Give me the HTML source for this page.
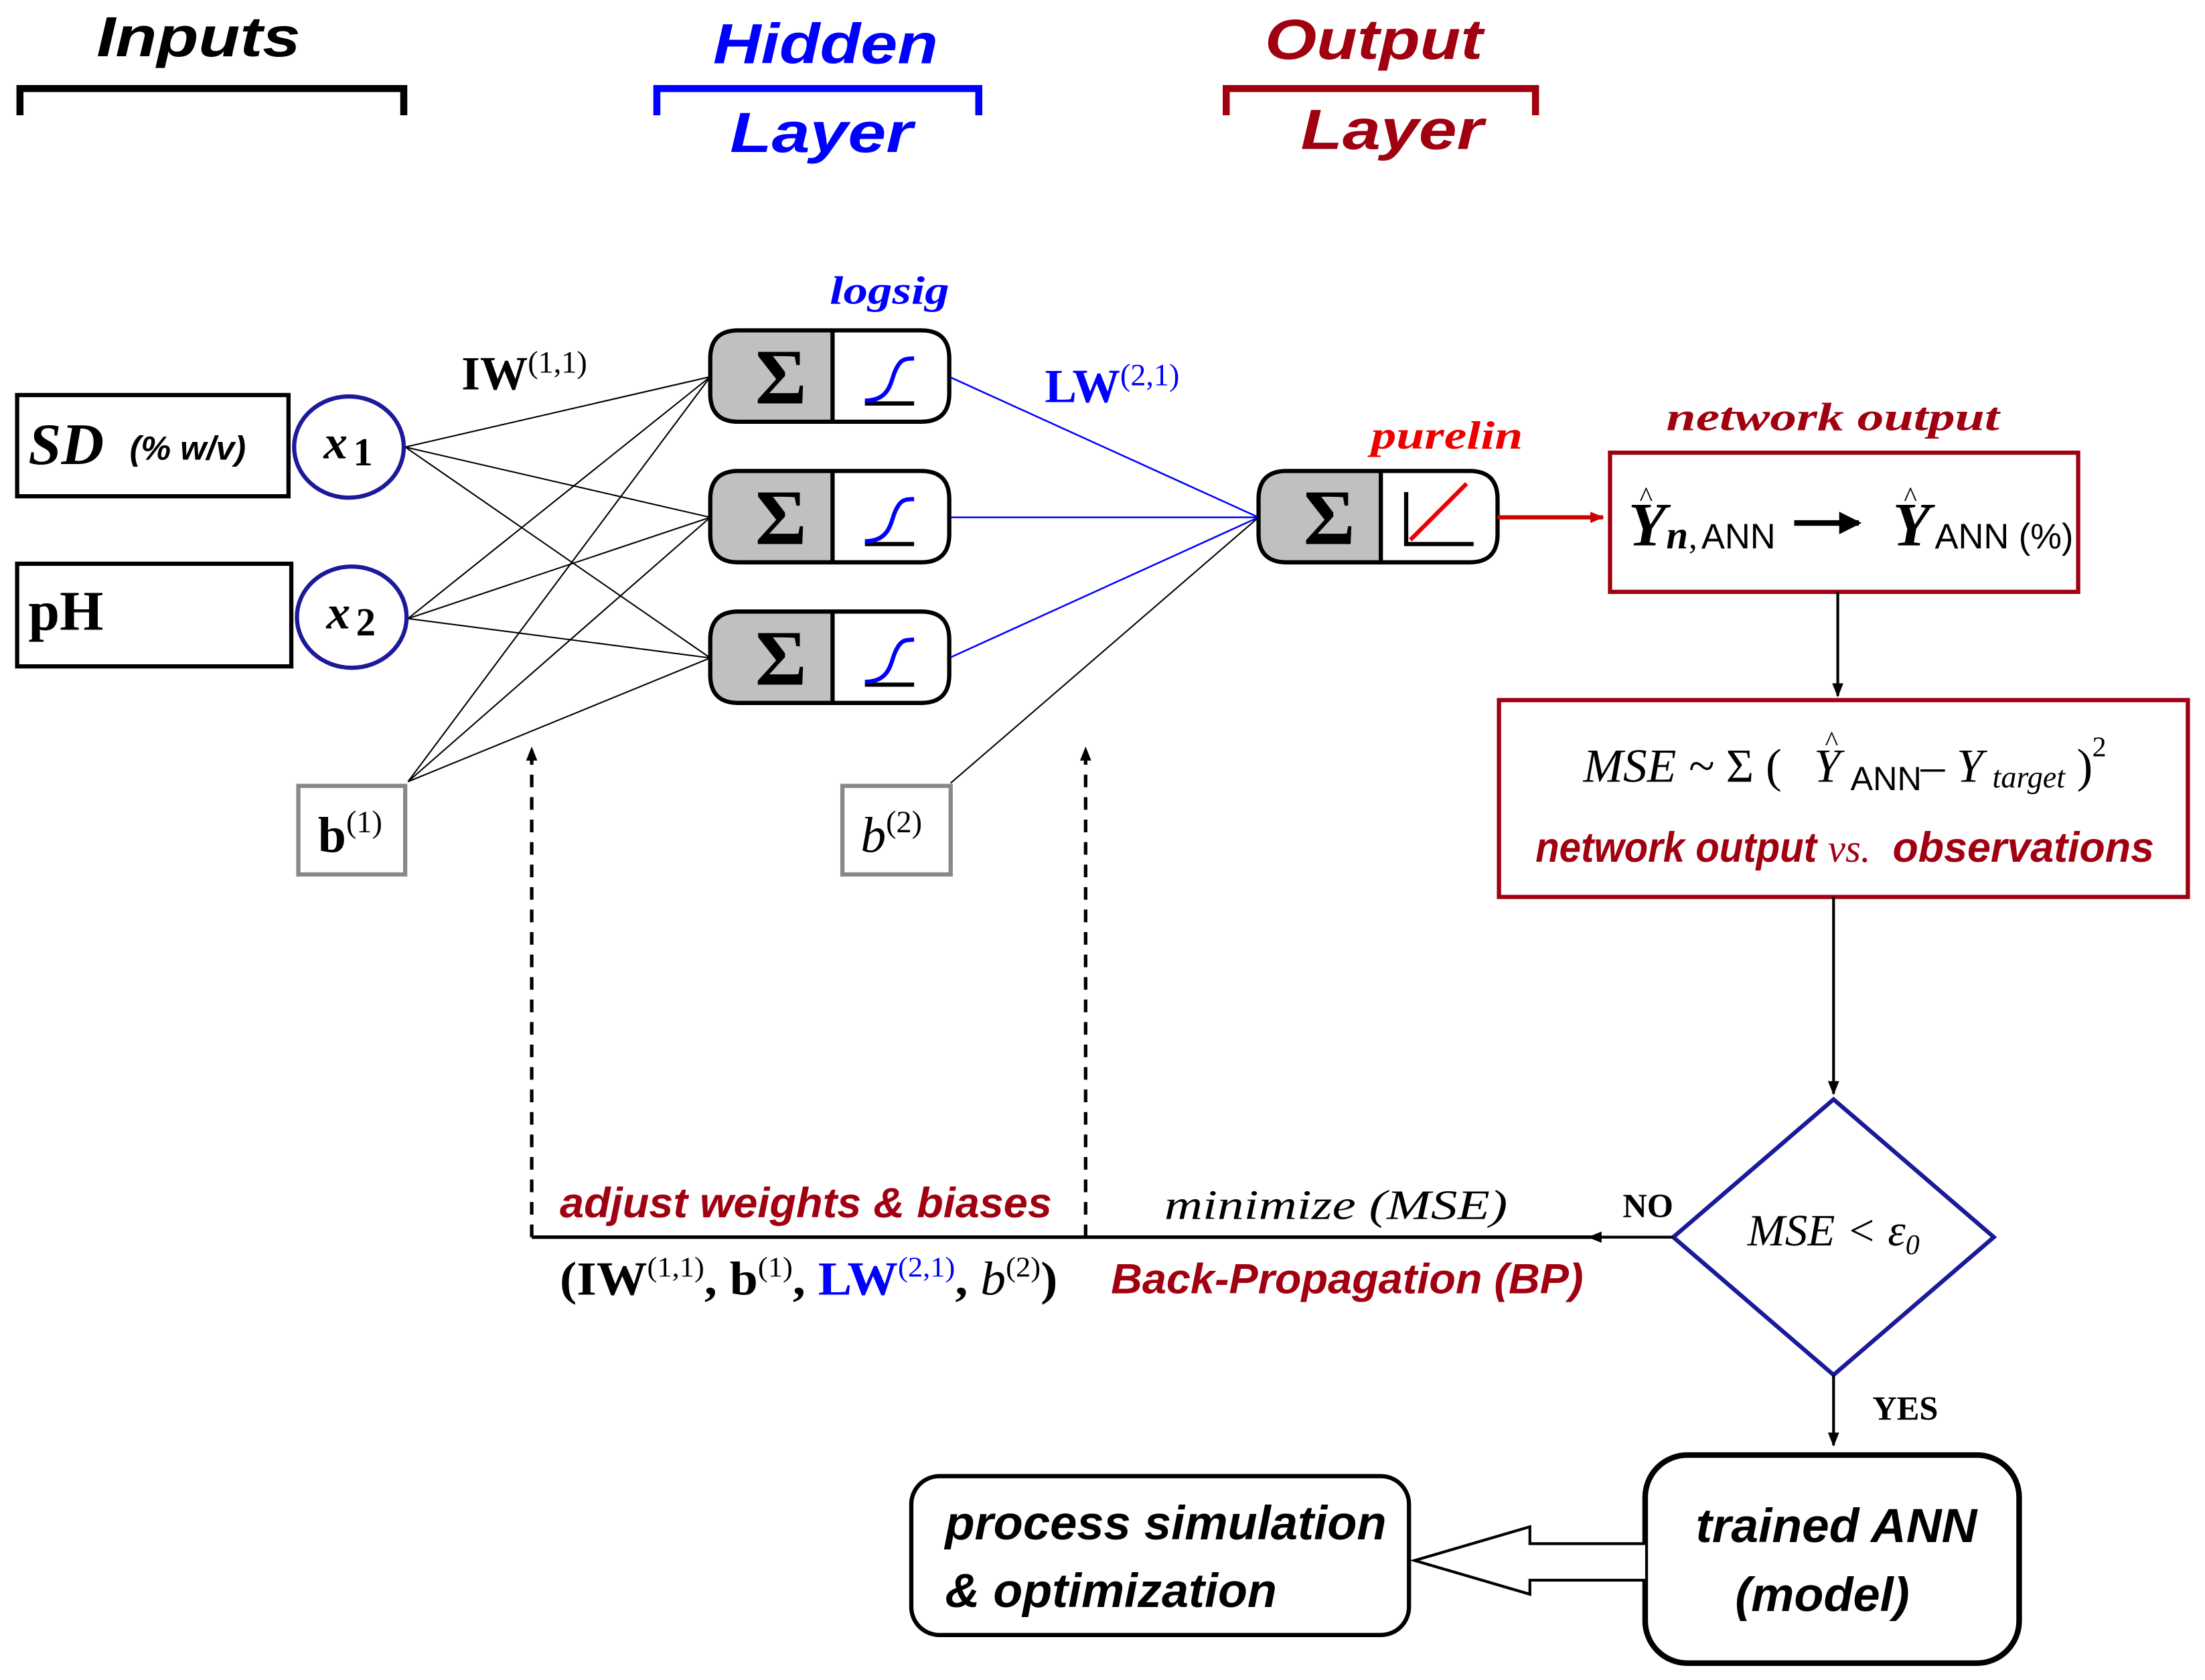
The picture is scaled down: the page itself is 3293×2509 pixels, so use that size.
<!DOCTYPE html>
<html><head><meta charset="utf-8"><style>
html,body{margin:0;padding:0;background:#fff}
svg{display:block}
.h{font-family:"Liberation Sans",sans-serif;font-weight:bold;font-style:italic}
.s{font-family:"Liberation Serif",serif}
</style></head><body>
<svg width="3293" height="2509" viewBox="0 0 1568 1195" xmlns="http://www.w3.org/2000/svg">
<defs>
<marker id="ab" markerWidth="10" markerHeight="8" refX="9" refY="4" orient="auto" markerUnits="userSpaceOnUse"><path d="M0,0 L10,4 L0,8 Z" fill="#000"/></marker>
<marker id="ar" markerWidth="10" markerHeight="8" refX="9" refY="4" orient="auto" markerUnits="userSpaceOnUse"><path d="M0,0 L10,4 L0,8 Z" fill="#c00"/></marker>
<g id="neu">
<path d="M20,0 H150 Q170,0 170,20 V45 Q170,65 150,65 H20 Q0,65 0,45 V20 Q0,0 20,0 Z" fill="#fff"/>
<path d="M20,0 H87 V65 H20 Q0,65 0,45 V20 Q0,0 20,0 Z" fill="#c0c0c0"/>
<path d="M20,0 H150 Q170,0 170,20 V45 Q170,65 150,65 H20 Q0,65 0,45 V20 Q0,0 20,0 Z" fill="none" stroke="#000" stroke-width="3"/>
<line x1="87" y1="0" x2="87" y2="65" stroke="#000" stroke-width="3"/>
<text x="32" y="52" class="s" font-size="56" font-weight="bold">Σ</text>
</g>
<g id="sig">
<line x1="110" y1="52" x2="145" y2="52" stroke="#000" stroke-width="3"/>
<path d="M110,50 C130,50 128,33 133,26 C136,20 140,20 145,20" fill="none" stroke="#00f" stroke-width="3"/>
</g>
</defs>

<!-- headers -->
<text x="141" y="40" text-anchor="middle" class="h" font-size="40" textLength="145" lengthAdjust="spacingAndGlyphs">Inputs</text>
<path d="M14,82 V63 H287 V82" fill="none" stroke="#000" stroke-width="5"/>
<text x="587" y="45" text-anchor="middle" class="h" font-size="40" fill="#00f" textLength="160" lengthAdjust="spacingAndGlyphs">Hidden</text>
<path d="M467,82 V63 H696 V82" fill="none" stroke="#00f" stroke-width="5"/>
<text x="584" y="108" text-anchor="middle" class="h" font-size="40" fill="#00f" textLength="130" lengthAdjust="spacingAndGlyphs">Layer</text>
<text x="977" y="42" text-anchor="middle" class="h" font-size="40" fill="#a00010" textLength="155" lengthAdjust="spacingAndGlyphs">Output</text>
<path d="M872,82 V63 H1092 V82" fill="none" stroke="#a00010" stroke-width="5"/>
<text x="990" y="106" text-anchor="middle" class="h" font-size="40" fill="#a00010" textLength="130" lengthAdjust="spacingAndGlyphs">Layer</text>

<!-- connections -->
<g stroke="#000" stroke-width="1">
<line x1="288" y1="318" x2="505" y2="268"/><line x1="288" y1="318" x2="505" y2="368"/><line x1="288" y1="318" x2="505" y2="468"/>
<line x1="290" y1="440" x2="505" y2="268"/><line x1="290" y1="440" x2="505" y2="368"/><line x1="290" y1="440" x2="505" y2="468"/>
<line x1="290" y1="556" x2="505" y2="268"/><line x1="290" y1="556" x2="505" y2="368"/><line x1="290" y1="556" x2="505" y2="468"/>
<line x1="676" y1="557" x2="895" y2="368"/>
</g>
<g stroke="#00f" stroke-width="1.2">
<line x1="675" y1="268" x2="895" y2="368"/><line x1="675" y1="368" x2="895" y2="368"/><line x1="675" y1="468" x2="895" y2="368"/>
</g>

<!-- inputs -->
<rect x="12" y="281" width="193" height="72" fill="#fff" stroke="#000" stroke-width="3"/>
<text x="20" y="330" class="s" font-size="42" font-style="italic" font-weight="bold">SD</text>
<text x="92" y="327" class="h" font-size="24" font-style="normal">(% w/v)</text>
<ellipse cx="248" cy="318" rx="39" ry="36" fill="#fff" stroke="#1a1a9a" stroke-width="3"/>
<text x="230" y="326" class="s" font-size="34" font-weight="bold" font-style="italic">x</text><text x="251" y="331" class="s" font-size="28" font-weight="bold">1</text>
<rect x="12" y="401" width="195" height="73" fill="#fff" stroke="#000" stroke-width="3"/>
<text x="20" y="448" class="s" font-size="40" font-weight="bold">pH</text>
<ellipse cx="250" cy="439" rx="39" ry="36" fill="#fff" stroke="#1a1a9a" stroke-width="3"/>
<text x="232" y="447" class="s" font-size="34" font-weight="bold" font-style="italic">x</text><text x="253" y="452" class="s" font-size="28" font-weight="bold">2</text>
<rect x="212" y="559" width="76" height="63" fill="#fff" stroke="#888" stroke-width="3"/>
<text x="226" y="606" class="s" font-size="36" font-weight="bold">b<tspan font-size="22" font-weight="normal" dy="-14">(1)</tspan></text>
<rect x="599" y="559" width="77" height="63" fill="#fff" stroke="#888" stroke-width="3"/>
<text x="612" y="606" class="s" font-size="36" font-style="italic">b<tspan font-size="22" font-style="normal" dy="-14">(2)</tspan></text>

<!-- neurons -->
<use href="#neu" x="505" y="235"/><use href="#sig" x="505" y="235"/>
<use href="#neu" x="505" y="335"/><use href="#sig" x="505" y="335"/>
<use href="#neu" x="505" y="435"/><use href="#sig" x="505" y="435"/>
<use href="#neu" x="895" y="335"/>
<path d="M1000,350 V387 H1048" fill="none" stroke="#000" stroke-width="3"/>
<line x1="1003" y1="384" x2="1043" y2="344" stroke="#e00" stroke-width="3"/>

<text x="328" y="277" class="s" font-size="34" font-weight="bold">IW<tspan font-size="22" font-weight="normal" dy="-12">(1,1)</tspan></text>
<text x="590" y="216" class="s" font-size="28" font-weight="bold" font-style="italic" fill="#00f" textLength="85" lengthAdjust="spacingAndGlyphs">logsig</text>
<text x="743" y="286" class="s" font-size="34" font-weight="bold" fill="#00f">LW<tspan font-size="22" font-weight="normal" dy="-12">(2,1)</tspan></text>
<text x="975" y="319" class="s" font-size="28" font-weight="bold" font-style="italic" fill="#e00" textLength="108" lengthAdjust="spacingAndGlyphs">purelin</text>

<line x1="1065" y1="368" x2="1140" y2="368" stroke="#c00" stroke-width="3" marker-end="url(#ar)"/>
<text x="1185" y="306" class="s" font-size="28" font-weight="bold" font-style="italic" fill="#a00010" textLength="237" lengthAdjust="spacingAndGlyphs">network output</text>
<rect x="1145" y="322" width="333" height="99" fill="#fff" stroke="#a00010" stroke-width="3"/>
<text x="1158" y="388" class="s" font-size="44" font-weight="bold" font-style="italic">Y</text>
<text x="1166" y="360" class="s" font-size="20">^</text>
<text x="1185" y="390" class="s" font-size="28" font-weight="bold" font-style="italic">n</text>
<text x="1201" y="390" class="s" font-size="24">,</text>
<text x="1210" y="390" font-family="Liberation Sans" font-size="25">ANN</text>
<line x1="1276" y1="372" x2="1322" y2="372" stroke="#000" stroke-width="4"/>
<path d="M1308,364 L1324,372 L1308,380 Z" fill="#000"/>
<text x="1346" y="388" class="s" font-size="44" font-weight="bold" font-style="italic">Y</text>
<text x="1354" y="360" class="s" font-size="20">^</text>
<text x="1376" y="390" font-family="Liberation Sans" font-size="25">ANN (%)</text>

<line x1="1307" y1="421" x2="1307" y2="495" stroke="#000" stroke-width="2" marker-end="url(#ab)"/>
<rect x="1066" y="498" width="490" height="140" fill="#fff" stroke="#a00010" stroke-width="3"/>
<text x="1126" y="556" class="s" font-size="34" font-style="italic">MSE ~ <tspan font-style="normal">Σ (</tspan></text>
<text x="1290" y="556" class="s" font-size="34" font-style="italic">Y</text>
<text x="1298" y="534" class="s" font-size="20">^</text>
<text x="1316" y="562" font-family="Liberation Sans" font-size="24">ANN</text>
<text x="1366" y="556" class="s" font-size="34" font-style="italic">– Y</text>
<text x="1417" y="560" class="s" font-size="22" font-style="italic">target</text>
<text x="1477" y="556" class="s" font-size="34">)</text>
<text x="1488" y="538" class="s" font-size="20">2</text>
<text x="1092" y="613" class="h" font-size="30" fill="#a00010" textLength="200" lengthAdjust="spacingAndGlyphs">network output</text>
<text x="1300" y="613" class="s" font-size="28" font-style="italic" fill="#a00010">vs.</text>
<text x="1346" y="613" class="h" font-size="30" fill="#a00010" textLength="186" lengthAdjust="spacingAndGlyphs">observations</text>

<line x1="1304" y1="638" x2="1304" y2="778" stroke="#000" stroke-width="2" marker-end="url(#ab)"/>
<path d="M1304,782 L1418,880 L1304,978 L1190,880 Z" fill="#fff" stroke="#1a1a9a" stroke-width="3"/>
<text x="1304" y="886" text-anchor="middle" class="s" font-size="32" font-style="italic">MSE &lt; ε<tspan font-size="20" dy="6">0</tspan></text>
<line x1="1190" y1="880" x2="1130" y2="880" stroke="#000" stroke-width="2" marker-end="url(#ab)"/>
<text x="1172" y="866" text-anchor="middle" class="s" font-size="24" font-weight="bold">NO</text>
<line x1="1132" y1="880" x2="378" y2="880" stroke="#000" stroke-width="2.5"/>
<line x1="378" y1="880" x2="378" y2="532" stroke="#000" stroke-width="2.5" stroke-dasharray="9,7" marker-end="url(#ab)"/>
<line x1="772" y1="880" x2="772" y2="532" stroke="#000" stroke-width="2.5" stroke-dasharray="9,7" marker-end="url(#ab)"/>
<text x="573" y="866" text-anchor="middle" class="h" font-size="30" fill="#a00010" textLength="350" lengthAdjust="spacingAndGlyphs">adjust weights &amp; biases</text>
<text x="950" y="867" text-anchor="middle" class="s" font-size="30" font-style="italic" textLength="244" lengthAdjust="spacingAndGlyphs">minimize (MSE)</text>
<text x="398" y="921" class="s" font-size="34" font-weight="bold" textLength="354" lengthAdjust="spacingAndGlyphs">(IW<tspan font-size="20" font-weight="normal" dy="-13">(1,1)</tspan><tspan dy="13">, b</tspan><tspan font-size="20" font-weight="normal" dy="-13">(1)</tspan><tspan dy="13">, </tspan><tspan fill="#00f">LW</tspan><tspan fill="#00f" font-size="20" font-weight="normal" dy="-13">(2,1)</tspan><tspan dy="13">, </tspan><tspan font-style="italic" font-weight="normal">b</tspan><tspan font-size="20" font-weight="normal" dy="-13">(2)</tspan><tspan dy="13">)</tspan></text>
<text x="958" y="920" text-anchor="middle" class="h" font-size="30" font-weight="normal" fill="#a00010" textLength="336" lengthAdjust="spacingAndGlyphs">Back-Propagation (BP)</text>

<line x1="1304" y1="978" x2="1304" y2="1028" stroke="#000" stroke-width="2" marker-end="url(#ab)"/>
<text x="1355" y="1010" text-anchor="middle" class="s" font-size="24" font-weight="bold">YES</text>
<rect x="1170" y="1035" width="266" height="148" rx="30" fill="#fff" stroke="#000" stroke-width="4"/>
<text x="1306" y="1097" text-anchor="middle" class="h" font-size="34" font-weight="normal" textLength="200" lengthAdjust="spacingAndGlyphs">trained ANN</text>
<text x="1296" y="1146" text-anchor="middle" class="h" font-size="34" font-weight="normal" textLength="124" lengthAdjust="spacingAndGlyphs">(model)</text>
<rect x="648" y="1050" width="354" height="113" rx="20" fill="#fff" stroke="#000" stroke-width="3"/>
<text x="672" y="1095" class="h" font-size="34" font-weight="normal" textLength="314" lengthAdjust="spacingAndGlyphs">process simulation</text>
<text x="672" y="1143" class="h" font-size="34" font-weight="normal" textLength="236" lengthAdjust="spacingAndGlyphs">&amp; optimization</text>
<path d="M1170,1098 H1088 V1086 L1006,1110 L1088,1134 V1124 H1170" fill="#fff" stroke="#000" stroke-width="2"/>
</svg>
</body></html>
